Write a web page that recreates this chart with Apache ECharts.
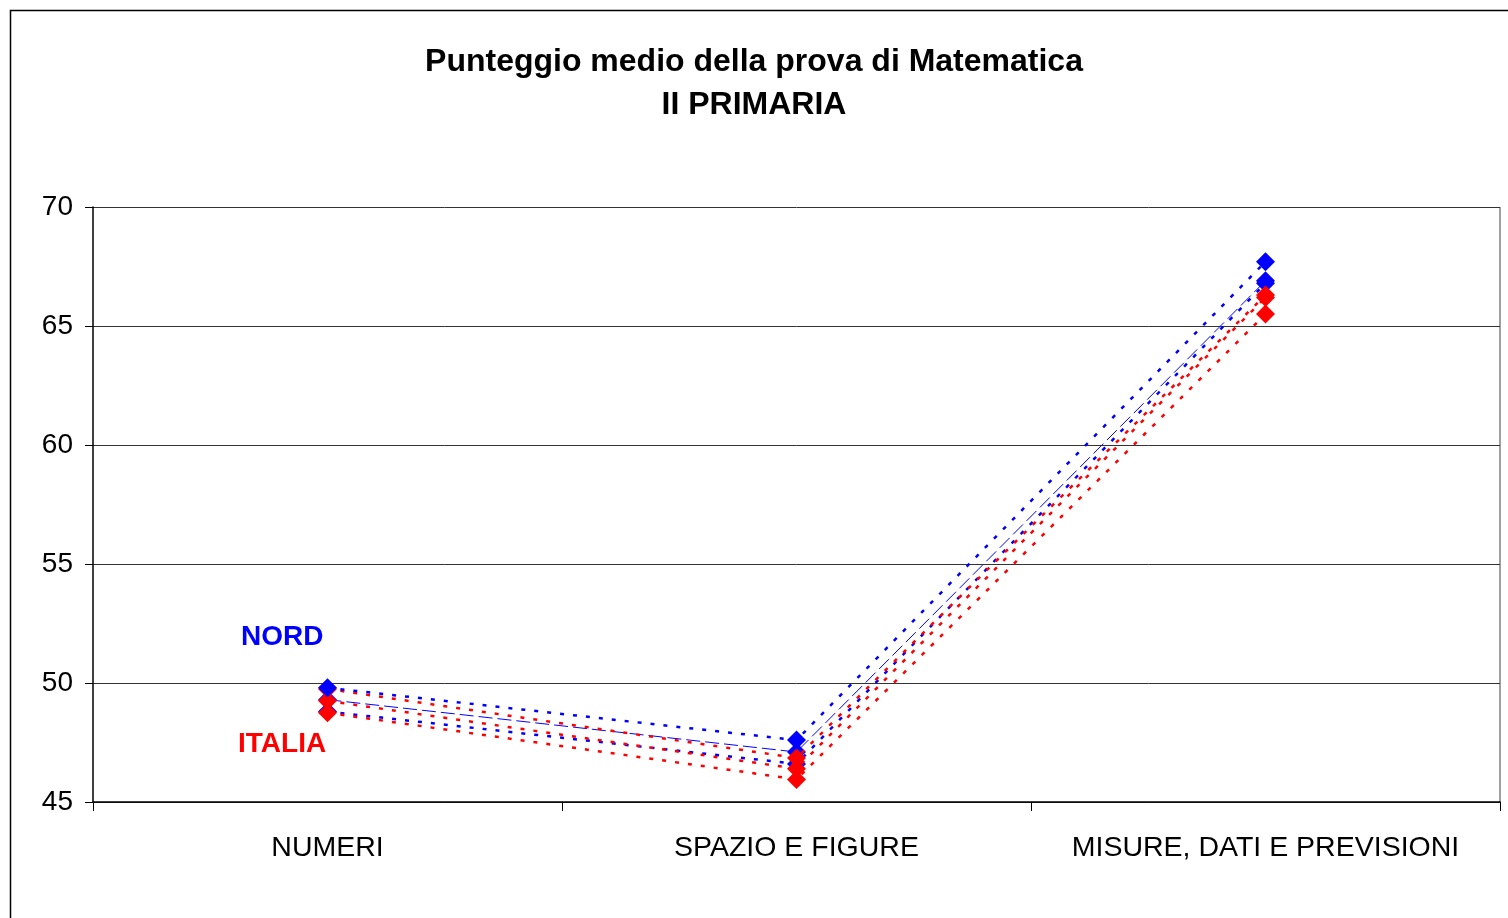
<!DOCTYPE html>
<html>
<head>
<meta charset="utf-8">
<script src="https://cdn.jsdelivr.net/npm/echarts@6/dist/echarts.min.js"></script>
<style>
  html, body { margin: 0; padding: 0; background: #fff; }
  #chart { width: 1508px; height: 918px; }
</style>
</head>
<body>
<div id="chart"></div>
<script>
// categorie e valori
const categories = ['NUMERI', 'SPAZIO E FIGURE', 'MISURE, DATI E PREVISIONI']
const yTicks = [45, 50, 55, 60, 65, 70]

// linee del nord (blu)
const nord1 = [49.8, 47.6, 67.7]
const nord2 = [49.3, 47.1, 66.9]
const nord3 = [48.8, 46.6, 66.8]
// linee italia (rosso)
const italia1 = [49.75, 46.85, 66.3]
const italia2 = [49.25, 46.4, 66.2]
const italia3 = [48.75, 45.95, 65.5]

const BLUE = '#0000ff'
const RED = '#ff0000'

function dotted(name, data, color, z) {
  return {
    name: name,
    type: 'line',
    data: data,
    symbol: 'diamond',
    symbolSize: 19,
    z: z,
    itemStyle: {color: color},
    lineStyle: {color: color, width: 2.5, type: [4, 9]},
    emphasis: {disabled: true}
  }
}

const chart = echarts.init(document.getElementById('chart'))
chart.setOption({
  animation: false,
  title: {
    text: 'Punteggio medio della prova di Matematica\nII PRIMARIA',
    left: 'center',
    top: 36,
    textStyle: {
      fontFamily: 'Liberation Sans',
      fontWeight: 'bold',
      fontSize: 32,
      lineHeight: 43,
      color: '#000'
    }
  },
  graphic: [
    {
      type: 'rect',
      shape: {x: 10.5, y: 10.5, width: 1520, height: 920},
      style: {fill: 'none', stroke: '#000', lineWidth: 1.5},
      silent: true
    },
    {
      type: 'line',
      shape: {x1: 1500, y1: 207, x2: 1500, y2: 802},
      style: {stroke: '#808080', lineWidth: 1.5},
      silent: true
    },
    {
      type: 'text',
      left: 241, top: 623,
      style: {text: 'NORD', fill: BLUE, font: 'bold 28px "Liberation Sans"'}
    },
    {
      type: 'text',
      left: 238, top: 730,
      style: {text: 'ITALIA', fill: RED, font: 'bold 28px "Liberation Sans"'}
    }
  ],
  grid: {left: 93, right: 8, top: 207, bottom: 116},
  xAxis: {
    type: 'category',
    data: categories,
    boundaryGap: true,
    axisLine: {lineStyle: {color: '#000', width: 1.5}},
    axisTick: {show: true, interval: 0, length: 9, lineStyle: {color: '#000'}},
    axisLabel: {
      interval: 0,
      margin: 32,
      fontFamily: 'Liberation Sans',
      fontSize: 28.5,
      color: '#000'
    }
  },
  yAxis: {
    type: 'value',
    min: yTicks[0],
    max: yTicks[yTicks.length - 1],
    interval: 5,
    axisLine: {show: true, lineStyle: {color: '#000', width: 1.5}},
    axisTick: {show: true, length: 8, lineStyle: {color: '#000'}},
    splitLine: {lineStyle: {color: '#333', width: 1}},
    axisLabel: {
      margin: 20,
      fontFamily: 'Liberation Sans',
      fontSize: 28,
      color: '#000'
    }
  },
  series: [
    dotted('Nord 3', nord3, BLUE, 2),
    {
      name: 'NORD',
      type: 'line',
      data: nord2,
      symbol: 'diamond',
      symbolSize: 19,
      z: 2,
      itemStyle: {color: BLUE},
      lineStyle: {color: BLUE, width: 1, type: [14, 5]},
      emphasis: {disabled: true}
    },
    dotted('Italia 1', italia1, RED, 3),
    dotted('Italia 2', italia2, RED, 3),
    dotted('Italia 3', italia3, RED, 3),
    dotted('Nord 1', nord1, BLUE, 4)
  ]
})
</script>
</body>
</html>
